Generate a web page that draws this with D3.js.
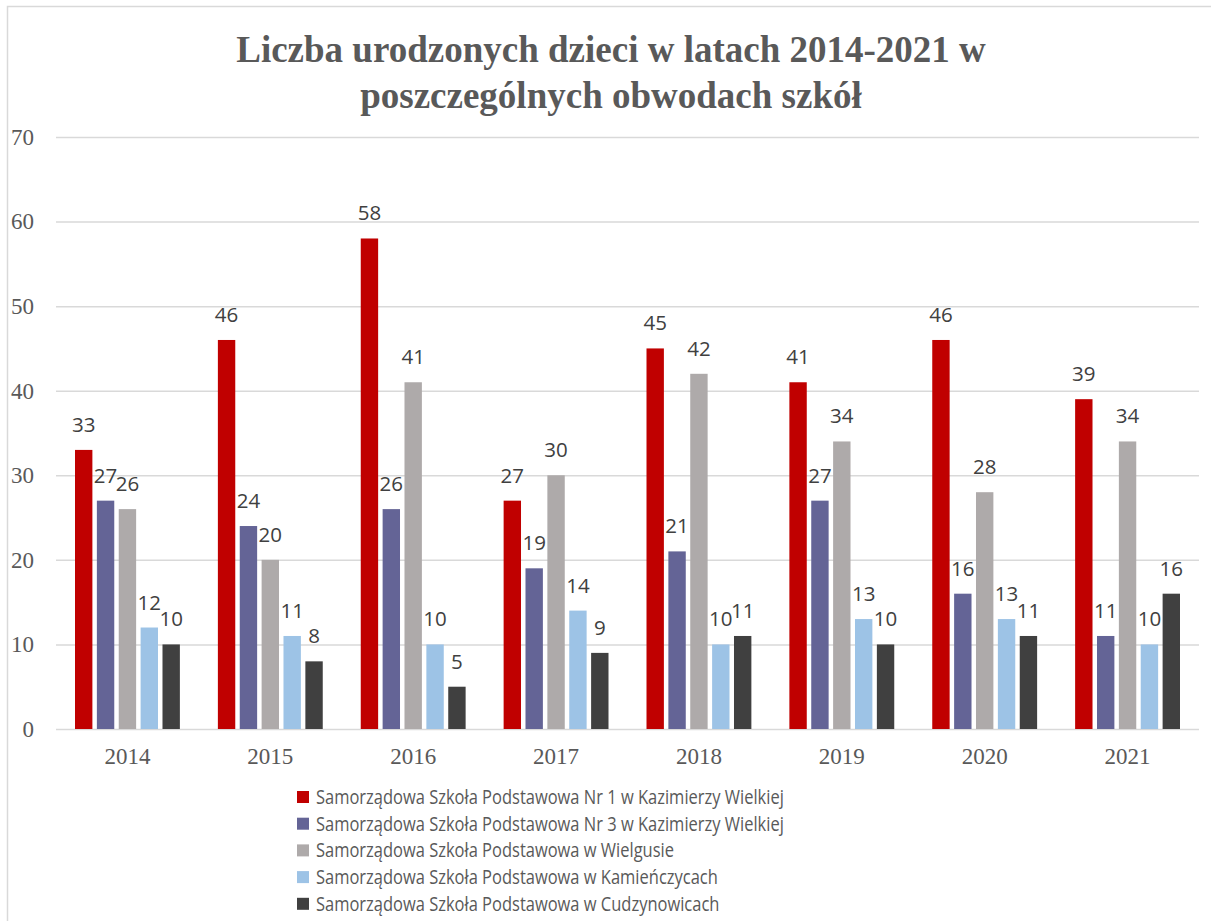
<!DOCTYPE html>
<html>
<head>
<meta charset="utf-8">
<script src="https://cdn.jsdelivr.net/npm/d3@7"></script>
<style>
  body { margin: 0; background: #fff; }
  svg { display: block; }
</style>
</head>
<body>
<svg id="chart"></svg>
<script>
const years = ["2014", "2015", "2016", "2017", "2018", "2019", "2020", "2021"];
const schools = [
  "Samorządowa Szkoła Podstawowa Nr 1 w Kazimierzy Wielkiej",
  "Samorządowa Szkoła Podstawowa Nr 3 w Kazimierzy Wielkiej",
  "Samorządowa Szkoła Podstawowa w Wielgusie",
  "Samorządowa Szkoła Podstawowa w Kamieńczycach",
  "Samorządowa Szkoła Podstawowa w Cudzynowicach"
];
const nr1 = [33, 46, 58, 27, 45, 41, 46, 39];
const nr3 = [27, 24, 26, 19, 21, 27, 16, 11];
const wielgus = [26, 20, 41, 30, 42, 34, 28, 34];
const kamienczyce = [12, 11, 10, 14, 10, 13, 13, 10];
const cudzynowice = [10, 8, 5, 9, 11, 10, 11, 16];
const yTicks = [0, 10, 20, 30, 40, 50, 60, 70];
const colors = ["#C00000", "#646496", "#AEAAAA", "#9DC3E6", "#404040"];
const titleLines = ["Liczba urodzonych dzieci w latach 2014-2021 w", "poszczególnych obwodach szkół"];

const seriesValues = [nr1, nr3, wielgus, kamienczyce, cudzynowice];

const width = 1211, height = 921;
const plotLeft = 56, plotRight = 1199, plotTop = 137, plotBottom = 729;

const svg = d3.select("#chart")
    .attr("width", width)
    .attr("height", height);

// ramka
svg.append("rect")
    .attr("x", 7.5).attr("y", 6.5)
    .attr("width", 1220).attr("height", 940)
    .attr("fill", "#fff")
    .attr("stroke", "#d9d9d9")
    .attr("stroke-width", 1.5);

// tytuł
svg.append("g").selectAll("text")
    .data(titleLines)
    .enter()
    .append("text")
    .attr("x", 611)
    .attr("y", (d, i) => 62 + i * 46)
    .attr("text-anchor", "middle")
    .attr("font-family", "'Liberation Serif', 'Times New Roman', serif")
    .attr("font-weight", "bold")
    .attr("font-size", 37)
    .attr("fill", "#595959")
    .text(d => d);

const x0 = d3.scaleBand()
    .domain(years)
    .range([plotLeft, plotRight]);

const x1 = d3.scaleBand()
    .domain(d3.range(schools.length))
    .range([19, x0.bandwidth() - 19])
    .paddingInner(0.205);

const y = d3.scaleLinear()
    .domain([0, 70])
    .range([plotBottom, plotTop]);

// siatka + oś Y
const yAxis = svg.append("g")
    .attr("transform", `translate(${plotLeft},0)`)
    .call(d3.axisLeft(y).tickValues(yTicks).tickSize(-(plotRight - plotLeft)).tickPadding(22));
yAxis.select(".domain").remove();
yAxis.selectAll(".tick line")
    .attr("stroke", "#d9d9d9")
    .attr("stroke-width", 1.5);
yAxis.selectAll(".tick text")
    .attr("font-family", "'Liberation Serif', 'Times New Roman', serif")
    .attr("font-size", 23)
    .attr("fill", "#595959");

// oś X
const xAxis = svg.append("g")
    .attr("transform", `translate(0,${plotBottom})`)
    .call(d3.axisBottom(x0).tickSize(0).tickPadding(19));
xAxis.select(".domain").remove();
xAxis.selectAll(".tick text")
    .attr("font-family", "'Liberation Serif', 'Times New Roman', serif")
    .attr("font-size", 23)
    .attr("fill", "#595959");

// słupki
const groups = svg.append("g")
    .selectAll("g")
    .data(years)
    .enter()
    .append("g")
    .attr("transform", d => `translate(${x0(d)},0)`);

const cells = groups.selectAll("g")
    .data((d, yi) => seriesValues.map((vals, si) => ({ si, value: vals[yi] })))
    .enter()
    .append("g");

cells.append("rect")
    .attr("x", d => x1(d.si))
    .attr("y", d => y(d.value))
    .attr("width", x1.bandwidth())
    .attr("height", d => plotBottom - y(d.value))
    .attr("fill", d => colors[d.si]);

cells.append("text")
    .attr("x", d => x1(d.si) + x1.bandwidth() / 2)
    .attr("y", d => y(d.value) - 18)
    .attr("text-anchor", "middle")
    .attr("font-family", "'Open Sans', sans-serif")
    .attr("font-size", 20.5)
    .attr("fill", "#404040")
    .text(d => d.value);

// legenda
const legend = svg.append("g")
    .selectAll("g")
    .data(schools)
    .enter()
    .append("g")
    .attr("transform", (d, i) => `translate(297,${797 + i * 26.7})`);

legend.append("rect")
    .attr("x", 0).attr("y", -6)
    .attr("width", 12).attr("height", 12)
    .attr("fill", (d, i) => colors[i]);

legend.append("text")
    .attr("x", 19)
    .attr("y", 0)
    .attr("dy", "0.35em")
    .attr("font-family", "'Open Sans', sans-serif")
    .attr("font-size", 20)
    .attr("fill", "#595959")
    .text(d => d)
    .each(function () {
        // węższy krój jak w oryginale
        const w = this.getComputedTextLength();
        d3.select(this)
          .attr("textLength", w * 0.824)
          .attr("lengthAdjust", "spacingAndGlyphs");
    });
</script>
</body>
</html>
